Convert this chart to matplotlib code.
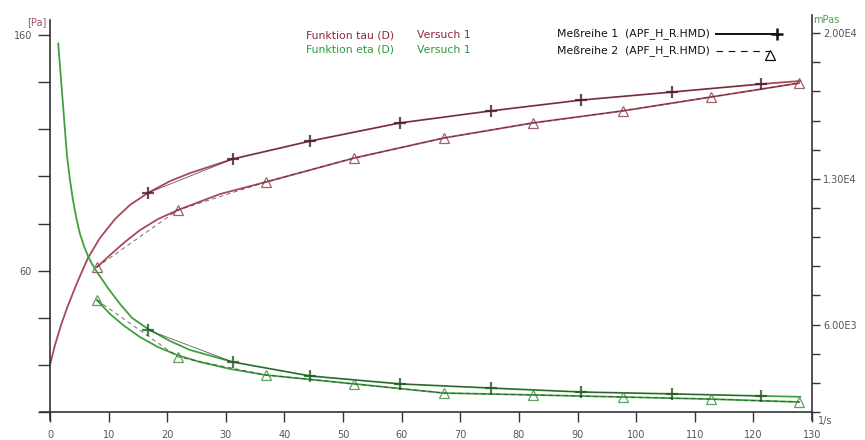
import matplotlib
matplotlib.use("Agg")
import matplotlib.pyplot as plt
from matplotlib.lines import Line2D
from matplotlib.ticker import FixedLocator, FixedFormatter

plt.rcParams['font.family'] = ['DejaVu Sans']

# ---------------- data ----------------
# Meßreihe 1 (measured points)
r1_rate = [16.7, 31.2, 44.4, 59.7, 75.2, 90.6, 106.1, 121.3]
r1_tau = [93.0, 107.4, 115.0, 122.7, 127.8, 132.4, 135.8, 139.2]
r1_eta = [5740, 4200, 3530, 3150, 2950, 2760, 2670, 2570]

# Meßreihe 2 (measured points)
r2_rate = [8.0, 21.8, 36.8, 51.9, 67.2, 82.4, 97.7, 112.8, 127.8]
r2_tau = [61.5, 85.7, 97.6, 107.8, 116.3, 122.7, 127.8, 133.7, 139.6]
r2_eta = [7180, 4440, 3580, 3150, 2710, 2620, 2520, 2420, 2280]

# Funktion tau (D) curves
ftau1_rate = [0, 0.85, 1.88, 2.9, 4.61, 6.48, 8.53, 11.09, 13.65, 16.72, 20.47, 23.88,
              31.2, 44.4, 59.7, 75.2, 90.6, 106.1, 121.3, 128]
ftau1_val = [20.0, 28.4, 36.9, 44.1, 54.8, 65.4, 73.9, 81.9, 87.9, 93.0, 98.0, 101.4,
             107.4, 115.0, 122.7, 127.8, 132.4, 135.8, 139.2, 140.5]
ftau2_rate = [8.0, 10.24, 12.79, 15.35, 18.42, 21.8, 29.0, 36.8, 51.9, 67.2, 82.4,
              97.7, 112.8, 127.8]
ftau2_val = [61.5, 66.6, 72.2, 77.2, 81.9, 85.7, 92.5, 97.6, 107.8, 116.3, 122.7,
             127.8, 133.7, 139.6]

# Funktion eta (D) curves
feta1_rate = [1.4, 2.9, 3.41, 3.92, 4.52, 5.12, 5.80, 6.48, 7.17, 8.02, 10.0, 11.94,
              13.99, 16.72, 20.47, 23.88, 31.2, 44.4, 59.7, 75.2, 90.6, 106.1, 121.3, 128]
feta1_val = [19500, 14100, 12940, 11980, 11070, 10350, 9770, 9290, 8910, 8520, 7710,
             6990, 6320, 5790, 5210, 4780, 4200, 3530, 3150, 2950, 2760, 2670, 2570, 2530]
feta2_rate = [8.0, 10.24, 12.45, 15.35, 18.42, 21.67, 25.59, 30.71, 36.68, 51.9, 67.2,
              82.4, 97.7, 112.8, 127.8]
feta2_val = [7180, 6510, 5980, 5400, 4920, 4540, 4200, 3870, 3580, 3150, 2710, 2620,
             2520, 2420, 2280]

x_ticks = list(range(0, 131, 10))
left_ticks = list(range(0, 161, 20))
left_labels = ['', '', '', '60', '', '', '', '', '160']
right_ticks = [1800 + 1400 * k for k in range(14)]
right_labels = ['', '', '', '6.00E3', '', '', '', '', '1.30E4', '', '', '', '', '2.00E4']

RED = '#a8485a'
RED_DARK = '#4a1828'
GREEN = '#3fa040'
GREEN_DARK = '#1f5a1f'
AX = '#333333'
LBL = '#555555'

W, H = 865, 440
fig = plt.figure(figsize=(W / 100, H / 100), dpi=100)
ax = fig.add_axes([40 / W, (H - 420) / H, (812 - 40) / W, (420 - 15) / H])
ax.set_xlim(-10 / 5.862, 130)
ax.set_ylim(-8 / 2.356, 397 / 2.356)
ax2 = ax.twinx()
ax2.set_ylim(1800 - 8 * 48.03, 1800 + 397 * 48.03)

for a in (ax, ax2):
    a.patch.set_visible(False)
    for s in a.spines.values():
        s.set_visible(False)

ax.spines['bottom'].set_visible(True)
ax.spines['bottom'].set_position(('data', 0))
ax.spines['left'].set_visible(True)
ax.spines['left'].set_position(('data', 0))
ax.spines['left'].set_bounds(-8 / 2.356, 166.4)
ax2.spines['right'].set_visible(True)
for s in (ax.spines['bottom'], ax.spines['left'], ax2.spines['right']):
    s.set_color(AX)
    s.set_linewidth(1.2)

ax.xaxis.set_major_locator(FixedLocator(x_ticks))
ax.tick_params(axis='x', direction='out', length=7, width=1.0, color=AX,
               labelsize=7, labelcolor=LBL, pad=6)
ax.yaxis.set_major_locator(FixedLocator(left_ticks))
ax.yaxis.set_major_formatter(FixedFormatter(left_labels))
ax.tick_params(axis='y', direction='out', length=9, width=1.0, color=AX,
               labelsize=7, labelcolor=LBL, pad=4)
ax2.yaxis.set_major_locator(FixedLocator(right_ticks))
ax2.yaxis.set_major_formatter(FixedFormatter(right_labels))
ax2.tick_params(axis='y', direction='out', length=6, width=1.0, color=AX,
                labelsize=7, labelcolor=LBL, pad=2)

# fitted functions
ax.plot(ftau1_rate, ftau1_val, color=RED, lw=1.3, zorder=2)
ax.plot(ftau2_rate, ftau2_val, color=RED, lw=1.3, zorder=2)
ax2.plot(feta1_rate, feta1_val, color=GREEN, lw=1.3, zorder=2)
ax2.plot(feta2_rate, feta2_val, color=GREEN, lw=1.3, zorder=2)

# measured series
ax.plot(r1_rate, r1_tau, color='#3a2a2a', lw=0.6, alpha=0.8, marker='+', ms=9, mew=1.6,
        mec=RED_DARK, zorder=3)
ax.plot(r2_rate, r2_tau, color='#3a2a2a', lw=0.6, alpha=0.8, ls=(0, (5, 4)), marker='^',
        ms=7, mfc='none', mec='#8a3a4a', mew=0.9, zorder=3)
ax2.plot(r1_rate, r1_eta, color='#2a3a2a', lw=0.6, alpha=0.8, marker='+', ms=9, mew=1.6,
         mec=GREEN_DARK, zorder=3)
ax2.plot(r2_rate, r2_eta, color='#2a3a2a', lw=0.6, alpha=0.8, ls=(0, (5, 4)), marker='^',
         ms=7, mfc='none', mec='#3a8a3a', mew=0.9, zorder=3)


def fx(x):
    return x / W


def fy(y):
    return 1 - y / H


# axis unit labels
fig.text(fx(46), fy(22), '[Pa]', color='#a0506a', fontsize=7, ha='right', va='center')
fig.text(fx(813), fy(20), 'mPas', color='#4aa04a', fontsize=7, ha='left', va='center')
fig.text(fx(818), fy(421), '1/s', color=LBL, fontsize=7, ha='left', va='center')

# legend block
LF = 7.8
fig.text(fx(306), fy(35), 'Funktion tau (D)', color='#8b2a3a', fontsize=LF, ha='left', va='center')
fig.text(fx(417), fy(35), 'Versuch 1', color='#8b2a3a', fontsize=LF, ha='left', va='center')
fig.text(fx(306), fy(50), 'Funktion eta (D)', color='#2e9a3a', fontsize=LF, ha='left', va='center')
fig.text(fx(417), fy(50), 'Versuch 1', color='#2e9a3a', fontsize=LF, ha='left', va='center')
fig.text(fx(710), fy(34), 'Meßreihe 1  (APF_H_R.HMD)', color='#111111', fontsize=LF,
         ha='right', va='center')
fig.text(fx(710), fy(51), 'Meßreihe 2  (APF_H_R.HMD)', color='#111111', fontsize=LF,
         ha='right', va='center')
fig.add_artist(Line2D([fx(716), fx(777)], [fy(34), fy(34)], color='#111111', lw=1.4,
                      transform=fig.transFigure))
fig.add_artist(Line2D([fx(777)], [fy(34)], marker='+', ms=9, mew=1.8, color='#111111',
                      transform=fig.transFigure))
fig.add_artist(Line2D([fx(716), fx(770)], [fy(51), fy(51)], color='#111111', lw=0.8,
                      ls=(0, (6, 5)), transform=fig.transFigure))
fig.add_artist(Line2D([fx(770)], [fy(55)], marker='^', ms=7, mfc='none', mew=0.9,
                      mec='#111111', transform=fig.transFigure))

fig.savefig('out.png', dpi=100, facecolor='white')
